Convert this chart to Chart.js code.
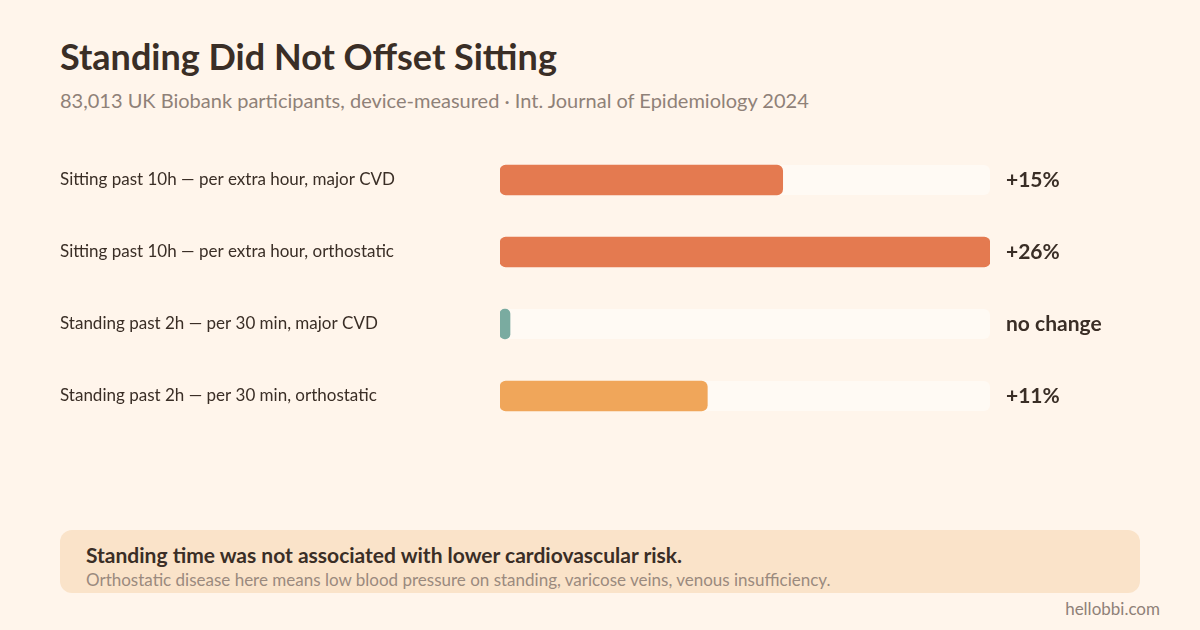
<!DOCTYPE html>
<html lang="en">
<head>
<meta charset="UTF-8">
<title>Standing Did Not Offset Sitting</title>
<script src="https://cdn.jsdelivr.net/npm/chart.js"></script>
<style>
  body { margin:0; width:1200px; height:630px; background:#fff5eb; font-family:Lato, "Open Sans", sans-serif; position:relative; overflow:hidden; }
  h1 { position:absolute; left:60px; top:34px; margin:0; font-size:36px; font-weight:700; color:#3a2e26; }
  .sub { position:absolute; left:60px; top:88px; font-size:20px; color:#8f8178; }
  #wrap { position:absolute; left:0; top:144px; width:1200px; height:288px; }
  .note { position:absolute; left:60px; top:530px; width:1080px; height:63px; background:#fae3c9; border-radius:12px; }
  .note b { position:absolute; left:26px; top:12px; font-size:21px; color:#3a2e26; }
  .note span { position:absolute; left:26px; top:39px; font-size:17px; color:#9a8a7e; }
  .site { position:absolute; right:40px; top:598px; font-size:17px; color:#8f8178; }
</style>
</head>
<body>
<h1>Standing Did Not Offset Sitting</h1>
<div class="sub">83,013 UK Biobank participants, device-measured · Int. Journal of Epidemiology 2024</div>
<div id="wrap"><canvas id="chart"></canvas></div>
<div class="note"><b>Standing time was not associated with lower cardiovascular risk.</b><span>Orthostatic disease here means low blood pressure on standing, varicose veins, venous insufficiency.</span></div>
<div class="site">hellobbi.com</div>
<script>
  const categories = ['Sitting past 10h — per extra hour, major CVD', 'Sitting past 10h — per extra hour, orthostatic', 'Standing past 2h — per 30 min, major CVD', 'Standing past 2h — per 30 min, orthostatic'];
  const values = [15, 26, 0, 11];
  const valueLabels = ['+15%', '+26%', 'no change', '+11%'];
  const colors = ['#e47a50', '#e47a50', '#7aaba0', '#f0a65a'];
  const xMax = 26;

  const decor = {
    id: 'decor',
    beforeDatasetsDraw(chart) {
      const c = chart.ctx, x = chart.scales.x, y = chart.scales.y;
      c.save();
      categories.forEach((lab, i) => {
        const cy = y.getPixelForValue(i);
        c.fillStyle = '#fffaf4';
        c.beginPath();
        c.roundRect(x.left, cy - 15, x.right - x.left, 30, 6);
        c.fill();
      });
      c.restore();
    },
    afterDatasetsDraw(chart) {
      const c = chart.ctx, x = chart.scales.x, y = chart.scales.y;
      c.save();
      c.textBaseline = 'middle';
      categories.forEach((lab, i) => {
        const cy = y.getPixelForValue(i);
        c.fillStyle = '#3a2e26';
        c.font = '17px Lato, sans-serif';
        c.textAlign = 'left';
        c.fillText(lab, 60, cy);
        c.font = 'bold 21px Lato, sans-serif';
        c.fillText(valueLabels[i], x.right + 16, cy);
      });
      c.restore();
    }
  };

  new Chart(document.getElementById('chart'), {
    type: 'bar',
    data: { labels: categories, datasets: [{ data: values, backgroundColor: colors, barThickness: 30, borderRadius: 6, borderSkipped: false, minBarLength: 10 }] },
    options: {
      indexAxis: 'y', responsive: true, maintainAspectRatio: false, animation: false,
      layout: { padding: { left: 500, right: 210, top: 0, bottom: 0 } },
      plugins: { legend: { display: false }, tooltip: { enabled: false } },
      scales: {
        x: { min: 0, max: xMax, display: false },
        y: { display: false }
      }
    },
    plugins: [decor]
  });
</script>
</body>
</html>
